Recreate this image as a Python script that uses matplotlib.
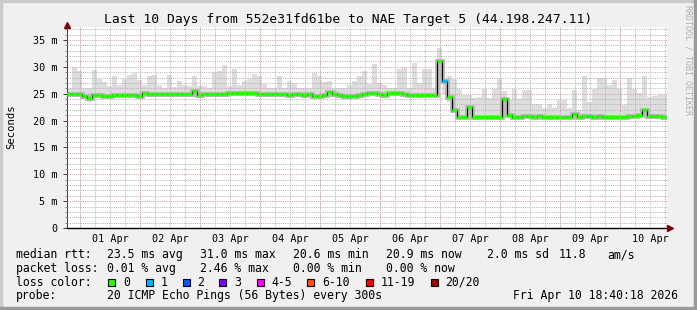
import numpy as np
import pandas as pd
import matplotlib
matplotlib.use("Agg")
import matplotlib.pyplot as plt
import matplotlib.dates as mdates
from matplotlib.ticker import MultipleLocator, FuncFormatter
from matplotlib.patches import Rectangle

# 2-hour bins from Mar 31 18:40 to Apr 10 18:40 (values in ms)
median = [
    24.9, 24.9, 25.0, 24.6, 24.1, 24.7, 24.8, 24.6, 24.6, 24.7,
    24.8, 24.8, 24.8, 24.7, 24.6, 25.2, 25.0, 25.0, 25.0, 24.9,
    25.0, 25.0, 24.9, 24.9, 25.0, 25.4, 24.8, 24.9, 24.9, 24.9,
    25.0, 25.0, 25.1, 25.1, 25.1, 25.1, 25.1, 25.1, 25.0, 25.0,
    25.0, 25.0, 24.9, 24.9, 24.8, 24.9, 24.9, 24.8, 24.9, 24.6,
    24.6, 24.8, 25.3, 24.9, 24.8, 24.5, 24.5, 24.6, 24.7, 24.9,
    25.2, 25.2, 24.9, 24.8, 25.1, 25.2, 25.2, 25.0, 24.8, 24.8,
    24.8, 24.8, 24.8, 24.8, 31.0, 27.3, 24.3, 22.0, 20.7, 20.7,
    22.6, 20.6, 20.6, 20.7, 20.7, 20.6, 20.6, 24.0, 21.0, 20.6,
    20.7, 20.8, 20.9, 20.7, 20.8, 20.7, 20.6, 20.6, 20.7, 20.7,
    20.7, 21.2, 20.7, 20.8, 20.9, 20.7, 20.8, 20.7, 20.7, 20.7,
    20.7, 20.7, 20.8, 20.8, 21.0, 22.0, 20.8, 20.9, 20.8, 20.7,
]
smoke_top = [
    26.0, 29.9, 29.2, 26.0, 26.0, 29.4, 27.7, 27.1, 26.5, 28.2,
    26.6, 27.7, 28.5, 28.8, 27.6, 26.6, 28.2, 28.5, 26.6, 26.0,
    28.5, 26.3, 27.4, 26.6, 26.5, 28.2, 26.5, 26.5, 26.0, 29.0,
    29.2, 30.3, 26.5, 29.5, 26.6, 27.4, 27.7, 28.6, 28.2, 26.8,
    26.0, 26.0, 28.2, 26.0, 27.4, 27.0, 26.0, 26.0, 26.0, 28.8,
    28.2, 27.2, 27.4, 26.0, 26.0, 26.0, 26.6, 27.4, 28.2, 29.2,
    26.8, 30.5, 27.0, 26.6, 26.0, 26.0, 29.5, 29.8, 26.0, 30.7,
    27.0, 29.6, 29.6, 26.0, 33.5, 28.0, 28.2, 27.7, 25.9, 24.8,
    24.8, 24.2, 24.3, 25.9, 24.2, 25.9, 27.7, 25.5, 24.0, 25.9,
    24.0, 25.6, 25.6, 23.1, 23.1, 22.3, 23.0, 22.3, 23.8, 23.8,
    22.3, 25.7, 22.0, 28.2, 23.5, 25.9, 27.9, 27.9, 26.6, 27.6,
    25.8, 22.8, 27.9, 25.8, 25.2, 28.2, 24.4, 24.6, 25.0, 24.8,
]
smoke_bot = [
    24.3, 24.3, 24.4, 24.0, 23.5, 24.1, 24.2, 24.0, 24.0, 24.1,
    24.2, 24.2, 24.2, 24.1, 24.0, 24.5, 24.4, 24.4, 24.4, 24.3,
    24.4, 24.4, 24.3, 24.3, 24.4, 24.6, 24.2, 24.3, 24.3, 24.3,
    24.4, 24.4, 24.5, 24.5, 24.5, 24.5, 24.5, 24.5, 24.4, 24.4,
    24.4, 24.4, 24.3, 24.3, 24.2, 24.3, 24.3, 24.2, 24.3, 24.0,
    24.0, 24.2, 24.6, 24.3, 24.2, 23.9, 23.9, 24.0, 24.1, 24.3,
    24.6, 24.6, 24.3, 24.2, 24.5, 24.6, 24.6, 24.4, 24.2, 24.2,
    24.2, 24.2, 24.2, 24.2, 29.8, 25.0, 23.5, 21.4, 20.2, 20.2,
    21.0, 20.1, 20.1, 20.2, 20.2, 20.1, 20.1, 21.0, 20.4, 20.1,
    20.2, 20.3, 20.4, 20.2, 20.3, 20.2, 20.1, 20.1, 20.2, 20.2,
    20.2, 20.6, 20.2, 20.3, 20.4, 20.2, 20.3, 20.2, 20.2, 20.2,
    20.2, 20.2, 20.3, 20.3, 20.4, 20.8, 20.3, 20.4, 20.3, 20.2,
]
# pings lost per bin (out of 20)
loss = [0] * 75 + [1] + [0] * 44

loss_labels = ["0", "1", "2", "3", "4-5", "6-10", "11-19", "20/20"]
loss_colors = ["#26ff00", "#00b8ff", "#0059ff", "#7e00ff",
               "#ff00ff", "#ff5500", "#ff0000", "#a10000"]
loss_upper = [0, 1, 2, 3, 5, 10, 19, 20]

title = "Last 10 Days from 552e31fd61be to NAE Target 5 (44.198.247.11)"

W, H = 697, 310
MONO = "DejaVu Sans Mono"

def fx(x):
    return x / W

def fy(y):
    return 1 - y / H

def loss_color(n):
    for up, c in zip(loss_upper, loss_colors):
        if n <= up:
            return c
    return loss_colors[-1]

edges = mdates.date2num(pd.date_range("2026-03-31 18:40", periods=len(median) + 1, freq="2h"))

fig = plt.figure(figsize=(W / 100, H / 100), dpi=100, facecolor="#f0f0f0")

# 3d-ish frame
fig.add_artist(Rectangle((0, 1 - 2 / H), 1, 2 / H, transform=fig.transFigure, color="#cbcbcb"))
fig.add_artist(Rectangle((0, 0), 2 / W, 1, transform=fig.transFigure, color="#cbcbcb"))
fig.add_artist(Rectangle((0, 0), 1, 3 / H, transform=fig.transFigure, color="#999999"))
fig.add_artist(Rectangle((1 - 3 / W, 0), 3 / W, 1, transform=fig.transFigure, color="#999999"))

ax = fig.add_axes([fx(67), 1 - 228 / H, 600 / W, 201 / H])
ax.set_facecolor("white")
ax.xaxis_date()

# smoke
ax.stairs(smoke_top, edges, baseline=smoke_bot, fill=True, color="#dddddd", zorder=2)
ax.stairs(median, edges, baseline=None, color="#b4b4b4", lw=3.4, zorder=3)
ax.stairs(median, edges, baseline=None, color="black", lw=0.8, zorder=4)
ax.hlines(median, edges[:-1], edges[1:], colors=[loss_color(n) for n in loss], lw=2.3, zorder=5)

ax.set_xlim(edges[0], edges[-1])
ax.set_ylim(0, 37.4)

# grid
ax.yaxis.set_major_locator(MultipleLocator(5))
ax.yaxis.set_minor_locator(MultipleLocator(1))
ax.yaxis.set_major_formatter(FuncFormatter(lambda v, p: "0" if v == 0 else f"{v:.0f} m"))
ax.xaxis.set_major_locator(mdates.HourLocator(byhour=12))
ax.xaxis.set_major_formatter(mdates.DateFormatter("%d %b"))
ax.xaxis.set_minor_locator(mdates.HourLocator(byhour=[0, 6, 12, 18]))
ax.xaxis.remove_overlapping_locs = False

dots = (0, (1, 1.2))
ax.grid(which="minor", axis="both", color="#b4b4b4", lw=0.72, ls=dots, zorder=6)
ax.grid(which="major", axis="y", color="#e49a9a", lw=0.72, ls=dots, zorder=6)
ax.grid(which="major", axis="x", visible=False)
for d in pd.date_range("2026-04-01", "2026-04-10", freq="D"):
    ax.axvline(mdates.date2num(d), color="#e49a9a", lw=0.72, ls=dots, zorder=6)
ax.set_axisbelow(False)

for s in ("top", "right"):
    ax.spines[s].set_visible(False)
ax.spines["left"].set_color("#404040")
ax.spines["left"].set_linewidth(0.72)
ax.spines["bottom"].set_color("black")
ax.spines["bottom"].set_linewidth(1.0)
ax.spines["bottom"].set_zorder(7)

ax.tick_params(axis="x", which="both", length=0, pad=4.3, labelsize=7.3)
ax.tick_params(axis="y", which="major", length=3, width=0.72, color="#404040", pad=3.6, labelsize=7.3)
ax.tick_params(axis="y", which="minor", length=1.5, width=0.72, color="#808080")
for lab in ax.get_xticklabels() + ax.get_yticklabels():
    lab.set_family(MONO)

# arrows at the axis ends
ax.plot([0], [1.01], marker="^", ms=4.5, color="#7f0000", transform=ax.transAxes, clip_on=False, zorder=8)
ax.plot([1.005], [0], marker=">", ms=4.5, color="#7f0000", transform=ax.transAxes, clip_on=False, zorder=8)

# texts
fig.text(fx(348), fy(19), title, ha="center", va="center", fontsize=9.4, family=MONO)
fig.text(fx(11), fy(127), "Seconds", rotation=90, ha="center", va="center", fontsize=7.6, family=MONO)
fig.text(fx(688), fy(60), "RRDTOOL / TOBI OETIKER", rotation=270, ha="center", va="center",
         fontsize=6.0, family=MONO, color="#b0b0b0")

fs = 8.3
rows = [
    (254.5, [("median rtt:", 16), ("23.5 ms avg", 107.3), ("31.0 ms max", 200.3),
             ("20.6 ms min", 293.3), ("20.9 ms now", 386.3), ("2.0 ms sd", 487.3),
             ("11.8", 558.3), ("am/s", 607.3)]),
    (268.3, [("packet loss:", 16), ("0.01 % avg", 107.3), ("2.46 % max", 200.3),
             ("0.00 % min", 293.3), ("0.00 % now", 386.3)]),
    (282.3, [("loss color:", 16)]),
    (296, [("probe:", 16), ("20 ICMP Echo Pings (56 Bytes) every 300s", 107.3),
           ("Fri Apr 10 18:40:18 2026", 513)]),
]
for y, parts in rows:
    for txt, x in parts:
        fig.text(fx(x), fy(y), txt, ha="left", va="center", fontsize=fs, family=MONO)

box_x = [108.3, 145.7, 182.7, 219.3, 256.7, 307.3, 365.7, 430.7]
for bx, lab, col in zip(box_x, loss_labels, loss_colors):
    fig.add_artist(Rectangle((fx(bx), fy(285.8)), 7 / W, 7 / H, transform=fig.transFigure,
                             facecolor=col, edgecolor="black", lw=0.8))
    fig.text(fx(bx + 14.5), fy(282.3), lab, ha="left", va="center", fontsize=fs, family=MONO)

fig.savefig("out.png", dpi=100, facecolor=fig.get_facecolor())
